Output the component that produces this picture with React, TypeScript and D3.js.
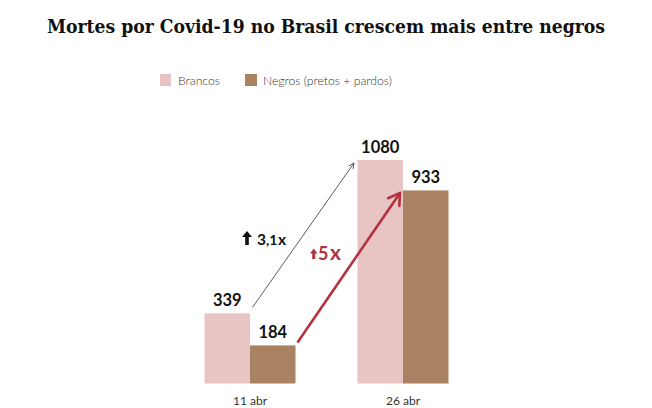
import React from "react";
import * as d3 from "d3";

const categories = ["11 abr", "26 abr"];
const series = ["Brancos", "Negros (pretos + pardos)"];
const brancos = [339, 1080];
const negros = [184, 933];
const colors = ["#e8c4c4", "#a98262"];
const red = "#b3333d";

const W = 652;
const H = 408;

function arrowHead(x1: number, y1: number, x2: number, y2: number, len: number, ang: number) {
  const a = Math.atan2(y2 - y1, x2 - x1);
  const p1 = [x2 - len * Math.cos(a - ang), y2 - len * Math.sin(a - ang)];
  const p2 = [x2 - len * Math.cos(a + ang), y2 - len * Math.sin(a + ang)];
  return `M${p1[0]},${p1[1]}L${x2},${y2}L${p2[0]},${p2[1]}`;
}

function upIcon(x: number, y: number, w: number, h: number, sw: number, hh: number) {
  const cx = x + w / 2;
  return `M${cx},${y}L${x + w},${y + hh}L${cx + sw / 2},${y + hh}L${cx + sw / 2},${y + h}L${cx - sw / 2},${y + h}L${cx - sw / 2},${y + hh}L${x},${y + hh}Z`;
}

export default function App() {
  const xc = d3.scalePoint<string>().domain(categories).range([250, 403]);
  const xs = d3.scaleBand<string>().domain(series).range([-45.5, 45.5]);
  const y = d3.scaleLinear().domain([0, 1080]).range([383.5, 160]);
  const values = [brancos, negros];

  const b1r = xc(categories[0])! + xs(series[0])! + xs.bandwidth();
  const b1t = y(brancos[0]);
  const b2l = xc(categories[1])! + xs(series[0])!;
  const b2t = y(brancos[1]);
  const n1r = xc(categories[0])! + xs(series[1])! + xs.bandwidth();
  const n1t = y(negros[0]);
  const n2l = xc(categories[1])! + xs(series[1])!;
  const n2t = y(negros[1]);

  const bk = { x1: b1r + 2.5, y1: b1t - 6, x2: b2l - 3.5, y2: b2t + 3 };
  const rd = { x1: n1r + 2, y1: n1t - 3, x2: n2l - 3, y2: n2t + 2.5 };

  const numFont = "Lato, 'Open Sans', sans-serif";

  return (
    <svg
      width={W}
      height={H}
      style={{ position: "absolute", left: 0, top: 0, background: "#fff" }}
    >
      <rect width={W} height={H} fill="#fff" />
      <text
        x={47}
        y={33}
        textLength={558}
        lengthAdjust="spacingAndGlyphs"
        fontFamily="'DejaVu Serif', serif"
        fontWeight="bold"
        fontSize={18.5}
        fill="#111"
      >
        Mortes por Covid-19 no Brasil crescem mais entre negros
      </text>

      {/* legend */}
      <g fontFamily={numFont} fontWeight={300} fontSize={12.2} fill="#333">
        <rect x={160} y={74} width={11} height={12} fill={colors[0]} />
        <text x={178} y={84.5}>{series[0]}</text>
        <rect x={245} y={74} width={12} height={12} fill={colors[1]} />
        <text x={263} y={84.5}>{series[1]}</text>
      </g>

      {/* bars */}
      {categories.map((c, ci) => (
        <g key={c}>
          {series.map((s, si) => {
            const v = values[si][ci];
            const x0 = xc(c)! + xs(s)!;
            return (
              <g key={s}>
                <rect
                  x={x0}
                  y={y(v)}
                  width={xs.bandwidth()}
                  height={y(0) - y(v)}
                  fill={colors[si]}
                />
                <text
                  x={x0 + xs.bandwidth() / 2}
                  y={y(v) - 7}
                  textAnchor="middle"
                  fontFamily={numFont}
                  fontWeight={700}
                  fontSize={16.5}
                  fill="#111"
                >
                  {v}
                </text>
              </g>
            );
          })}
          <text
            x={xc(c)!}
            y={405}
            textAnchor="middle"
            fontFamily={numFont}
            fontWeight={400}
            fontSize={12}
            fill="#333"
          >
            {c}
          </text>
        </g>
      ))}

      {/* black thin arrow */}
      <line x1={bk.x1} y1={bk.y1} x2={bk.x2} y2={bk.y2} stroke="#333" strokeWidth={0.8} />
      <path
        d={arrowHead(bk.x1, bk.y1, bk.x2, bk.y2, 6, 0.45)}
        fill="none"
        stroke="#333"
        strokeWidth={0.8}
      />

      {/* red arrow */}
      <line x1={rd.x1} y1={rd.y1} x2={rd.x2} y2={rd.y2} stroke={red} strokeWidth={2.6} />
      <path
        d={arrowHead(rd.x1, rd.y1, rd.x2, rd.y2, 13, 0.55)}
        fill="none"
        stroke={red}
        strokeWidth={2.6}
        strokeLinecap="round"
        strokeLinejoin="round"
      />

      {/* annotation labels */}
      <path d={upIcon(242, 231, 10, 14, 3.6, 6)} fill="#111" />
      <text x={257} y={245} fontFamily={numFont} fontWeight={700} fill="#111">
        <tspan fontSize={15.5}>3</tspan>
        <tspan fontSize={14}>,1</tspan>
        <tspan fontSize={15.5} dx={0.5}>x</tspan>
      </text>
      <path d={upIcon(310, 248.5, 7.5, 10.5, 3, 5)} fill={red} />
      <text x={318} y={259.5} fontFamily={numFont} fontWeight={700} fill={red} letterSpacing={1.5}>
        <tspan fontSize={18}>5</tspan>
        <tspan fontSize={21}>x</tspan>
      </text>
    </svg>
  );
}
